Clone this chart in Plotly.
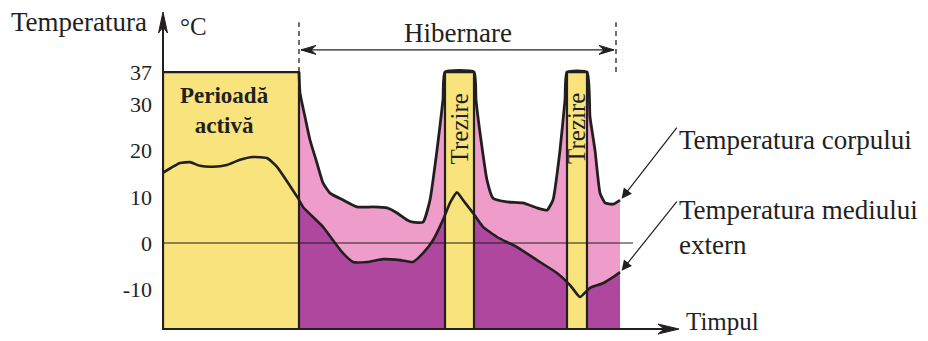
import plotly.graph_objects as go

# ---------------- data ----------------
# time axis in arbitrary units (no ticks on the original)
ENV_T = [0, 4.25, 6.75, 9.25, 12.5, 16, 19.25, 22.5, 26, 28.5, 33.75, 35, 40, 42.5, 45,
         47.5, 51, 55, 59.25, 62.5, 65, 67.5, 70, 71.75, 73.5, 75, 77.5, 80, 83.5, 88.5,
         93.5, 98.5, 101.75, 104.25, 106.75, 110, 112.5, 114.25]
ENV_V = [15.2, 17.3, 17.5, 16.7, 16.5, 16.9, 18.0, 18.6, 18.4, 16.5, 9.7, 7.8, 3.5, 0.6, -2.2,
         -4.1, -4.1, -3.5, -3.7, -4.1, -2.2, 0.6, 5.0, 8.7, 11.0, 9.3, 6.5, 3.5, 1.3, -0.9,
         -3.7, -6.5, -9.1, -11.7, -9.7, -8.7, -7.4, -6.3]

BODY_T = [34, 34.25, 35.5, 36.75, 38.5, 40, 41.75, 45, 48.5, 52.5, 56, 58.5, 61, 62.5, 65,
          66.75, 68.5, 70, 70.5, 77.75, 78.25, 79.5, 81, 82.5, 86, 90, 93.5, 96, 97.5, 99.25,
          100.5, 101, 106, 106.75, 108, 109.25, 110.5, 112.5, 114.25]
BODY_V = [37, 32.5, 27.3, 22.3, 17.3, 13.0, 10.8, 9.3, 7.8, 7.8, 7.6, 6.5, 5.0, 4.5, 4.5,
          9.3, 20.1, 31.0, 37, 37, 31.0, 22.3, 13.6, 9.7, 8.9, 8.7, 7.6, 7.1, 9.3, 20.1,
          31.0, 37, 37, 27.3, 20.1, 10.8, 8.7, 8.4, 9.3]

BODY_NORMAL = 37
ACTIVE_END = 34
HIB_END = 113.25
AROUSAL_START = [70.5, 101]
AROUSAL_END = [77.75, 106]
ZERO_LINE_END = 117.5

Y_TICKS = [-10, 0, 10, 20, 30, 37]
Y_TICK_TEXT = ["-10", "0", "10", "20", "30", "37"]

Y_MIN, Y_MAX = -18.83, 50
X_MIN, X_MAX = 0, 134.25

# ---------------- styles ----------------
YELLOW = "#F8E37C"
PINK = "#EE9DCA"
PURPLE = "#AF479E"
INK = "#231F20"
FONT = "Liberation Serif"
SMOOTH = dict(shape="spline", smoothing=0.45)

fig = go.Figure()

def base(x0, x1):
    fig.add_trace(go.Scatter(x=[x0, x1], y=[Y_MIN, Y_MIN], mode="lines",
                             line=dict(width=0, color="rgba(0,0,0,0)"),
                             hoverinfo="skip", showlegend=False))

# pink: body temperature fill
base(BODY_T[0], BODY_T[-1])
fig.add_trace(go.Scatter(x=BODY_T, y=BODY_V, mode="lines", fill="tonexty",
                         fillcolor=PINK, line=dict(width=0, color=PINK, **SMOOTH),
                         hoverinfo="skip", showlegend=False))
# purple: environment temperature fill
base(ENV_T[0], ENV_T[-1])
fig.add_trace(go.Scatter(x=ENV_T, y=ENV_V, mode="lines", fill="tonexty",
                         fillcolor=PURPLE, line=dict(width=0, color=PURPLE, **SMOOTH),
                         hoverinfo="skip", showlegend=False))

def rect(x0, x1):
    fig.add_trace(go.Scatter(x=[x0, x0, x1, x1, x0],
                             y=[Y_MIN, BODY_NORMAL, BODY_NORMAL, Y_MIN, Y_MIN],
                             mode="lines", fill="toself", fillcolor=YELLOW,
                             line=dict(color=INK, width=2.2),
                             hoverinfo="skip", showlegend=False))

rect(X_MIN, ACTIVE_END)
for s, e in zip(AROUSAL_START, AROUSAL_END):
    rect(s, e)

# zero line
fig.add_trace(go.Scatter(x=[X_MIN, ZERO_LINE_END], y=[0, 0], mode="lines",
                         line=dict(color=INK, width=1.1),
                         hoverinfo="skip", showlegend=False))
# curves
fig.add_trace(go.Scatter(x=ENV_T, y=ENV_V, mode="lines",
                         line=dict(color=INK, width=2.6, **SMOOTH),
                         name="Temperatura mediului extern", showlegend=False))
fig.add_trace(go.Scatter(x=BODY_T, y=BODY_V, mode="lines",
                         line=dict(color=INK, width=2.8, **SMOOTH),
                         name="Temperatura corpului", showlegend=False))

shapes = []
# y axis line + arrowhead
shapes.append(dict(type="line", xref="paper", yref="paper", x0=0, x1=0, y0=0, y1=0.96,
                   line=dict(color=INK, width=2)))
shapes.append(dict(type="path", xref="paper", yref="paper", xsizemode="pixel",
                   ysizemode="pixel", xanchor=0, yanchor=1.0,
                   path="M0,0 L-4.5,-21 L0,-15 L4.5,-21 Z",
                   fillcolor=INK, line=dict(color=INK, width=1)))
# x axis line + arrowhead
shapes.append(dict(type="line", xref="paper", yref="paper", x0=0, x1=0.94, y0=0.003, y1=0.003,
                   line=dict(color=INK, width=2)))
shapes.append(dict(type="path", xref="paper", yref="paper", xsizemode="pixel",
                   ysizemode="pixel", xanchor=0.961, yanchor=0.003,
                   path="M0,0 L-21,5 L-15,0 L-21,-5 Z",
                   fillcolor=INK, line=dict(color=INK, width=1)))
# hibernation markers
for xv in (ACTIVE_END, HIB_END):
    shapes.append(dict(type="line", xref="x", yref="y", x0=xv, x1=xv, y0=BODY_NORMAL, y1=47.8,
                       line=dict(color=INK, width=1.3, dash="5px,4px")))
shapes.append(dict(type="line", xref="x", yref="y", x0=ACTIVE_END + 0.5, x1=HIB_END - 0.5,
                   y0=41.8, y1=41.8, line=dict(color=INK, width=1.3)))
shapes.append(dict(type="path", xref="x", yref="y", xsizemode="pixel", ysizemode="pixel",
                   xanchor=ACTIVE_END + 0.5, yanchor=41.8,
                   path="M0,0 L15,4.5 L10,0 L15,-4.5 Z", fillcolor=INK,
                   line=dict(color=INK, width=1)))
shapes.append(dict(type="path", xref="x", yref="y", xsizemode="pixel", ysizemode="pixel",
                   xanchor=HIB_END - 0.5, yanchor=41.8,
                   path="M0,0 L-15,4.5 L-10,0 L-15,-4.5 Z", fillcolor=INK,
                   line=dict(color=INK, width=1)))

ann = []
def txt(text, x, y, size, xref="x", yref="y", xanchor="center", yanchor="middle",
        angle=0, bold=False, align="center"):
    ann.append(dict(text=f"<b>{text}</b>" if bold else text, x=x, y=y, xref=xref, yref=yref,
                    xanchor=xanchor, yanchor=yanchor, textangle=angle, showarrow=False,
                    align=align, font=dict(family=FONT, size=size, color=INK)))

txt("Temperatura", -0.026, 0.967, 27, xref="paper", yref="paper", xanchor="right")
txt("°C", 0.028, 0.953, 25, xref="paper", yref="paper", xanchor="left")
txt("Hibernare", (ACTIVE_END + HIB_END) / 2, 45.4, 27)
txt("Perioadă<br>activă", 15.3, 28.6, 23, bold=True)
for s, e in zip(AROUSAL_START, AROUSAL_END):
    txt("Trezire", (s + e) / 2, 24.7, 25, angle=-90)
txt("Temperatura corpului", 128.6, 22.3, 27, xanchor="left")
txt("Temperatura mediului<br>extern", 128.6, 3.4, 27, xanchor="left", align="left")
txt("Timpul", 130.2, -17.0, 25, xanchor="left")

# pointer arrows
for tipx, tipy, tx, ty in [(BODY_T[-1] + 0.4, BODY_V[-1] + 0.3, 128.75, 25.3),
                           (ENV_T[-1] + 0.4, ENV_V[-1] + 0.3, 128.75, 9.3)]:
    ann.append(dict(text="", x=tipx, y=tipy, xref="x", yref="y", ax=tx, ay=ty,
                    axref="x", ayref="y", showarrow=True, arrowhead=2, arrowsize=1.7,
                    arrowwidth=1.2, arrowcolor=INK, standoff=0, startstandoff=0))

fig.update_layout(
    width=928, height=341,
    margin=dict(l=163, r=228, t=12, b=11),
    paper_bgcolor="white", plot_bgcolor="white",
    showlegend=False,
    shapes=shapes, annotations=ann,
    xaxis=dict(range=[X_MIN, X_MAX], visible=False, fixedrange=True),
    yaxis=dict(range=[Y_MIN, Y_MAX], tickvals=Y_TICKS, ticktext=Y_TICK_TEXT,
               showgrid=False, zeroline=False, showline=False, ticks="",
               ticklabelstandoff=10, automargin=False, fixedrange=True,
               tickfont=dict(family=FONT, size=22, color=INK)),
)

fig.write_html("out.html", config={"displayModeBar": False},
               post_script="document.body.style.margin='0';document.body.style.overflow='hidden';")
